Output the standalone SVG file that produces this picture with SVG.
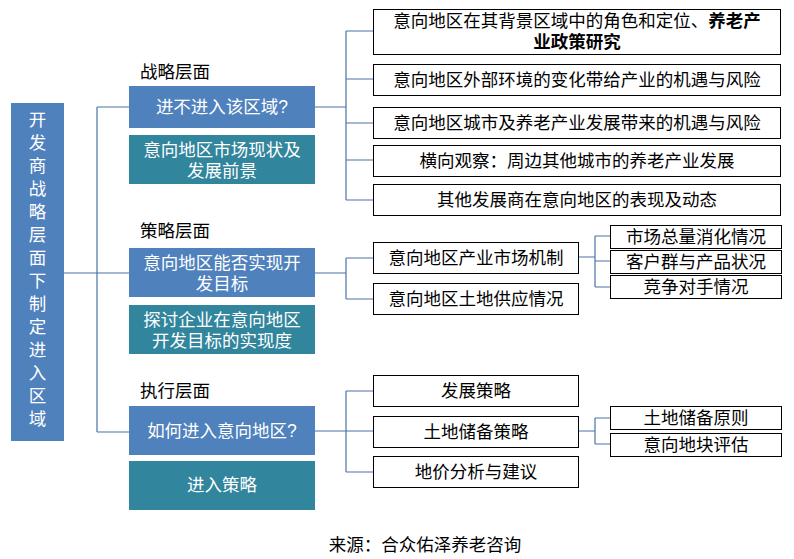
<svg xmlns="http://www.w3.org/2000/svg" width="794" height="559" viewBox="0 0 794 559">
<style>
text{font-family:"Liberation Sans","Noto Sans CJK SC",sans-serif;font-size:17.5px;text-anchor:middle}
.b{fill:#4F81BD}.t{fill:#31859C}
.w{fill:#fff}
.o{fill:#fff;stroke:#000;stroke-width:1}
.k{fill:#000}
.l{fill:#000;text-anchor:start}
#c path{fill:none;stroke:#4A73A8;stroke-width:1.2}
</style>
<rect width="794" height="559" fill="#fff"/>
<g id="c">
<path d="M64 273H97M97 107V432M97 107H129M97 273H129M97 432H129"/>
<path d="M315 107H346M346 31V200M346 31H373M346 79H373M346 123H373M346 160H373M346 200H373"/>
<path d="M315 273H346M346 258V299M346 258H373M346 299H373"/>
<path d="M578 257H595M595 236V287M595 236H610M595 261H610M595 287H610"/>
<path d="M315 431H346M346 391V472M346 391H373M346 431H373M346 472H373"/>
<path d="M578 431H595M595 418V444M595 418H610M595 444H610"/>
</g>
<g id="root"><rect class="b" x="11" y="103" width="53" height="338"/>
<text class="w" x="37.5" y="126">开</text><text class="w" x="37.5" y="149">发</text><text class="w" x="37.5" y="172">商</text><text class="w" x="37.5" y="195">战</text><text class="w" x="37.5" y="218">略</text><text class="w" x="37.5" y="241">层</text><text class="w" x="37.5" y="264">面</text><text class="w" x="37.5" y="287">下</text><text class="w" x="37.5" y="310">制</text><text class="w" x="37.5" y="333">定</text><text class="w" x="37.5" y="356">进</text><text class="w" x="37.5" y="379">入</text><text class="w" x="37.5" y="402">区</text><text class="w" x="37.5" y="425">域</text></g>
<g id="labels"><text class="l" x="140" y="78">战略层面</text><text class="l" x="140" y="237">策略层面</text><text class="l" x="140" y="397">执行层面</text></g>
<g id="n1"><rect class="b" x="129" y="86" width="186" height="42"/><text class="w" x="222" y="113">进不进入该区域?</text></g>
<g id="n2"><rect class="t" x="129" y="135" width="186" height="49"/><text class="w" x="222" y="156">意向地区市场现状及</text><text class="w" x="222" y="177">发展前景</text></g>
<g id="n3"><rect class="b" x="129" y="248" width="186" height="49"/><text class="w" x="222" y="269">意向地区能否实现开</text><text class="w" x="222" y="290">发目标</text></g>
<g id="n4"><rect class="t" x="129" y="305" width="186" height="49"/><text class="w" x="222" y="326">探讨企业在意向地区</text><text class="w" x="222" y="347">开发目标的实现度</text></g>
<g id="n5"><rect class="b" x="129" y="406" width="186" height="49"/><text class="w" x="222" y="437">如何进入意向地区?</text></g>
<g id="n6"><rect class="t" x="129" y="461" width="186" height="49"/><text class="w" x="222" y="491">进入策略</text></g>
<g id="r1"><rect class="o" x="373.5" y="9.5" width="407" height="45"/><text class="k" x="577" y="27">意向地区在其背景区域中的角色和定位、<tspan font-weight="bold">养老产</tspan></text><text class="k" x="577" y="48" font-weight="bold">业政策研究</text></g>
<g id="r2"><rect class="o" x="373.5" y="64.5" width="407" height="31"/><text class="k" x="577" y="86">意向地区外部环境的变化带给产业的机遇与风险</text></g>
<g id="r3"><rect class="o" x="373.5" y="107.5" width="407" height="31"/><text class="k" x="577" y="129">意向地区城市及养老产业发展带来的机遇与风险</text></g>
<g id="r4"><rect class="o" x="373.5" y="145.5" width="407" height="31"/><text class="k" x="577" y="167">横向观察：周边其他城市的养老产业发展</text></g>
<g id="r5"><rect class="o" x="373.5" y="184.5" width="407" height="31"/><text class="k" x="577" y="206">其他发展商在意向地区的表现及动态</text></g>
<g id="s1"><rect class="o" x="373.5" y="242.5" width="205" height="31"/><text class="k" x="476" y="264">意向地区产业市场机制</text></g>
<g id="s2"><rect class="o" x="373.5" y="283.5" width="205" height="31"/><text class="k" x="476" y="305">意向地区土地供应情况</text></g>
<g id="s3"><rect class="o" x="610.5" y="225.5" width="171" height="23"/><text class="k" x="696" y="243">市场总量消化情况</text></g>
<g id="s4"><rect class="o" x="610.5" y="250.5" width="171" height="23"/><text class="k" x="696" y="268">客户群与产品状况</text></g>
<g id="s5"><rect class="o" x="610.5" y="275.5" width="171" height="23"/><text class="k" x="696" y="293">竞争对手情况</text></g>
<g id="e1"><rect class="o" x="373.5" y="375.5" width="205" height="31"/><text class="k" x="476" y="397">发展策略</text></g>
<g id="e2"><rect class="o" x="373.5" y="416.5" width="205" height="31"/><text class="k" x="476" y="438">土地储备策略</text></g>
<g id="e3"><rect class="o" x="373.5" y="456.5" width="205" height="31"/><text class="k" x="476" y="478">地价分析与建议</text></g>
<g id="e4"><rect class="o" x="610.5" y="406.5" width="171" height="23"/><text class="k" x="696" y="424">土地储备原则</text></g>
<g id="e5"><rect class="o" x="610.5" y="433.5" width="171" height="23"/><text class="k" x="696" y="451">意向地块评估</text></g>
<text class="k" x="425" y="551" font-size="16">来源：合众佑泽养老咨询</text>
</svg>
